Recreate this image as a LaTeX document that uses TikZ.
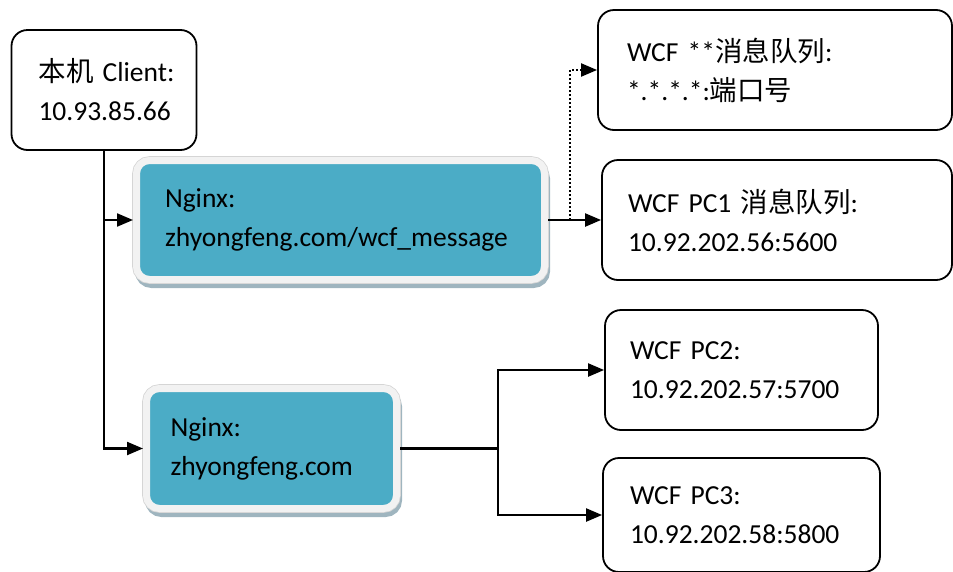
\documentclass[tikz,border=0pt]{standalone}
\usepackage{fontspec}
\setmainfont{Carlito}[WordSpace=0.75]
\newfontfamily\cjk{Noto Sans CJK SC}
\usetikzlibrary{arrows.meta}
\definecolor{tealc}{HTML}{4BACC6}
\definecolor{rimc}{HTML}{F2F2F2}
\definecolor{rimedge}{HTML}{D5D5D5}
\definecolor{shadowc}{HTML}{9FB5BF}
\tikzset{
  txtbox/.style={draw=black, line width=1.8pt, rounded corners=16pt, fill=white,
    align=left, font=\fontsize{27.5}{39}\selectfont, inner xsep=0pt, inner ysep=0pt},
  ngbox/.style={rounded corners=13pt, fill=tealc, draw=rimc, line width=7pt,
    preaction={fill=shadowc, draw=shadowc, line width=7pt, transform canvas={shift={(2pt,-5pt)}}},
    preaction={draw=rimedge, line width=8.6pt},
    align=left, font=\fontsize{27.5}{39}\selectfont, inner xsep=0pt, inner ysep=0pt},
  arr/.style={line width=2.2pt, -{Triangle[length=16pt,width=13pt]}},
  conn/.style={line width=2.2pt},
  dotconn/.style={line width=2pt, dash pattern=on 2pt off 2pt, -{Triangle[length=16pt,width=13pt]}}
}
\begin{document}
\begin{tikzpicture}[x=1pt,y=-1pt]
\useasboundingbox (0,0) rectangle (953,571);
\node[txtbox, minimum width=185pt, minimum height=120pt, text width=131pt] (client) at (104,90)
  {\mbox{{\cjk 本机} Client:}\\\mbox{10.93.85.66}};
\node[ngbox, minimum width=408pt, minimum height=119pt, text width=351pt] (ng1) at (340.5,220)
  {Nginx:\\\mbox{zhyongfeng.com/wcf\_message}};
\node[ngbox, minimum width=250pt, minimum height=120pt, text width=202pt] (ng2) at (271.5,448.5)
  {Nginx:\\\mbox{zhyongfeng.com}};
\node[txtbox, minimum width=354pt, minimum height=120pt, text width=296pt] (wcf) at (775,70)
  {\mbox{WCF **{\cjk 消息队列}:}\\\mbox{*.*.*.*:{\cjk 端口号}}};
\node[txtbox, minimum width=350pt, minimum height=120pt, text width=298pt] (pc1) at (777,220)
  {\mbox{WCF PC1 {\cjk 消息队列}:}\\\mbox{10.92.202.56:5600}};
\node[txtbox, minimum width=273pt, minimum height=120pt, text width=223pt] (pc2) at (741.5,370)
  {\mbox{WCF PC2:}\\\mbox{10.92.202.57:5700}};
\node[txtbox, minimum width=277pt, minimum height=114pt, text width=223pt] (pc3) at (741.5,515)
  {\mbox{WCF PC3:}\\\mbox{10.92.202.58:5800}};
\coordinate (j) at (498,448.5);
\draw[arr] (client.south) |- (ng2.west);
\draw[arr] (client.south |- ng1.west) -- (ng1.west);
\draw[arr] (ng1.east) -- (pc1.west);
\draw[dotconn] ([xshift=22pt]ng1.east) |- (wcf.west);
\draw[conn] (ng2.east) -- (j);
\draw[arr] (j) |- (pc2.west);
\draw[arr] (j) |- (pc3.west);
\end{tikzpicture}
\end{document}
